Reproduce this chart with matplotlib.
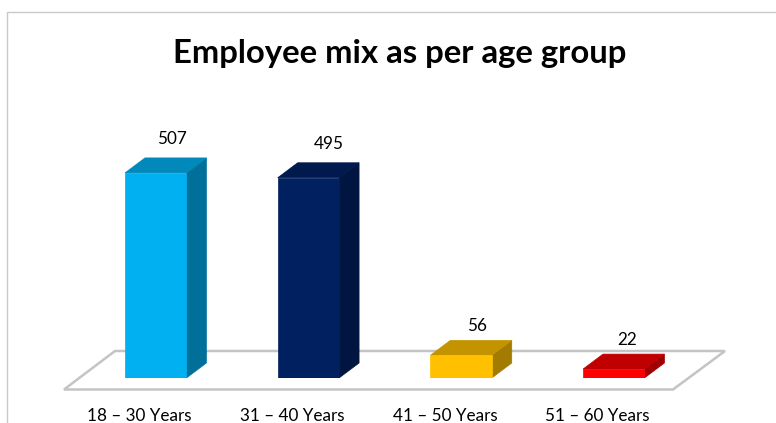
import matplotlib
matplotlib.use("Agg")
import matplotlib.pyplot as plt
from matplotlib.lines import Line2D

categories = ["18 – 30 Years", "31 – 40 Years", "41 – 50 Years", "51 – 60 Years"]
values = [507, 495, 56, 22]
front_colors = ["#00B0F0", "#002060", "#FFC000", "#FF0000"]
top_colors = ["#0089BA", "#001A4E", "#C49400", "#C00000"]
side_colors = ["#00709B", "#00153F", "#A37B00", "#A00000"]
label_offsets_px = [(16, 33.5), (20, 33.5), (16, 29.5), (13, 29.5)]

W, H = 776, 423
plt.rcParams["font.family"] = ["Lato", "DejaVu Sans"]
fig = plt.figure(figsize=(W / 100, H / 100), dpi=100, facecolor="white")

# axes: baseline at pixel y=378, top at y=12; x pixels 0..776
ax = fig.add_axes([0, (H - 378) / H, 1, (378 - 12) / H])
px_per_cat = 152.67
px_per_val = 0.4045
x0_px = 155.7
ax.set_xlim(-x0_px / px_per_cat, (W - x0_px) / px_per_cat)
ax.set_ylim(0, (378 - 12) / px_per_val)

dx = 20 / px_per_cat
dy = 15 / px_per_val
hw = 30.7 / px_per_cat
xs = list(range(len(values)))

# floor
fx = lambda p: (p - x0_px) / px_per_cat
fy = lambda p: (378 - p) / px_per_val
ax.fill([fx(64), fx(673), fx(725), fx(115)], [fy(389.5), fy(389.5), fy(351), fy(351)],
        facecolor="white", edgecolor="#c4c4c4", lw=1.8, clip_on=False, zorder=1, joinstyle="miter")

for x, v, fc, tc, sc in zip(xs, values, front_colors, top_colors, side_colors):
    l, r = x - hw, x + hw
    ax.fill([r, r + dx, r + dx, r], [0, dy, v + dy, v], color=sc, lw=0.5, zorder=3)
    ax.fill([l, r, r + dx, l + dx], [v, v, v + dy, v + dy], color=tc, lw=0.5, zorder=3)
    ax.bar(x, v, width=2 * hw, color=fc, edgecolor=fc, linewidth=0.5, zorder=4)

for x, v, (ox, oy) in zip(xs, values, label_offsets_px):
    ax.annotate(str(v), (x, v), xytext=(ox * 0.72, oy * 0.72), textcoords="offset points",
                ha="center", va="center", fontsize=12.3, color="black", zorder=5)

for s in ax.spines.values():
    s.set_visible(False)
ax.patch.set_alpha(0)
ax.set_yticks([])
ax.set_xticks([x - 16 / px_per_cat for x in xs])
ax.set_xticklabels(categories, fontsize=12.3, color="black")
ax.tick_params(axis="x", length=0, pad=21.5)

fig.text(399.5 / W, 1 - 54 / H, "Employee mix as per age group", ha="center", va="center",
         fontsize=23.7, fontweight="bold", color="black")

# chart-area border (top and left visible)
fig.add_artist(Line2D([7 / W, 7 / W, 1], [0, 1 - 12 / H, 1 - 12 / H], color="#c8c8c8", lw=1))

fig.savefig("out.png", dpi=100, facecolor="white")
